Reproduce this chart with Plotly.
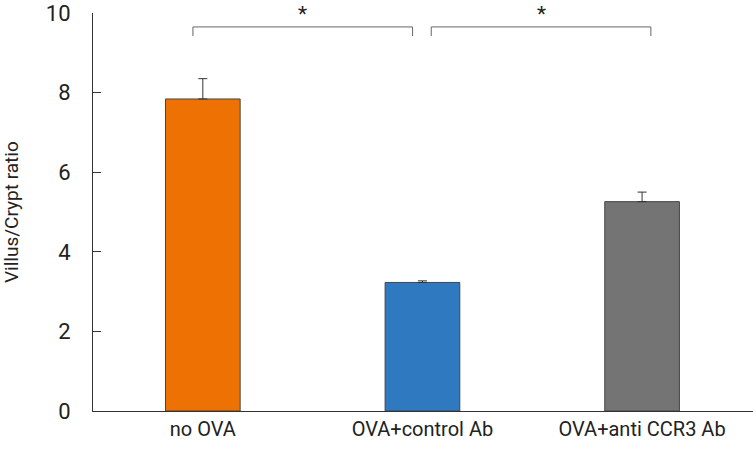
import plotly.graph_objects as go

categories = ["no OVA", "OVA+control Ab", "OVA+anti CCR3 Ab"]
values = [7.84, 3.23, 5.26]
errors = [0.51, 0.04, 0.24]
colors = ["#EE7203", "#2F79C1", "#747474"]
y_ticks = [0, 2, 4, 6, 8, 10]

FONT = "Roboto, Arial"
L, R, T, B = 93, 1, 13, 41
W, H = 754, 452
PW = W - L - R
PH = H - T - B

fig = go.Figure()
fig.add_trace(go.Bar(
    x=list(range(len(categories))),
    y=values,
    width=0.34,
    marker=dict(color=colors, line=dict(color="#444444", width=1)),
    error_y=dict(type="data", symmetric=False, array=errors,
                 arrayminus=[0] * len(errors), color="#333333",
                 thickness=1, width=4.5),
    cliponaxis=False,
))

# significance brackets
brackets = [(-0.045, 0.955), (1.04, 2.04)]
for x0, x1 in brackets:
    fig.add_shape(type="path",
                  path=f"M {x0},9.42 L {x0},9.65 L {x1},9.65 L {x1},9.42",
                  xref="x", yref="y",
                  line=dict(color="#666666", width=1))
    fig.add_annotation(x=(x0 + x1) / 2, xref="x", yref="paper",
                       y=1 + (T - 1) / PH, text="*", showarrow=False,
                       yanchor="top", borderpad=0,
                       font=dict(family=FONT, size=21, color="#222222"))

# y-axis title
fig.add_annotation(xref="paper", yref="paper", x=(11 - L) / PW, y=0.5,
                   text="Villus/Crypt ratio", textangle=-90, showarrow=False,
                   xanchor="center", yanchor="middle",
                   font=dict(family=FONT, size=19, color="#222222"))

fig.update_layout(
    width=W, height=H,
    margin=dict(l=L, r=R, t=T, b=B),
    paper_bgcolor="white", plot_bgcolor="white",
    showlegend=False,
    font=dict(family=FONT, size=17, color="#222222"),
    xaxis=dict(range=[-0.5, 2.505], tickmode="array",
               tickvals=list(range(len(categories))), ticktext=categories,
               showline=True, linecolor="#333333", linewidth=1,
               ticks="", showgrid=False, zeroline=False, automargin=False,
               tickfont=dict(family=FONT, size=20, color="#222222")),
    yaxis=dict(range=[0, 10], tickvals=y_ticks,
               showline=True, linecolor="#333333", linewidth=1,
               ticks="inside", ticklen=8, tickcolor="#333333",
               showgrid=False, zeroline=False, ticklabelstandoff=17,
               automargin=False, ticklabeloverflow="allow",
               tickfont=dict(family=FONT, size=22, color="#222222")),
)

fig.write_html("out.html",
               config={"displayModeBar": False},
               post_script="document.body.style.margin='0';"
                           "document.body.style.overflow='hidden';")
